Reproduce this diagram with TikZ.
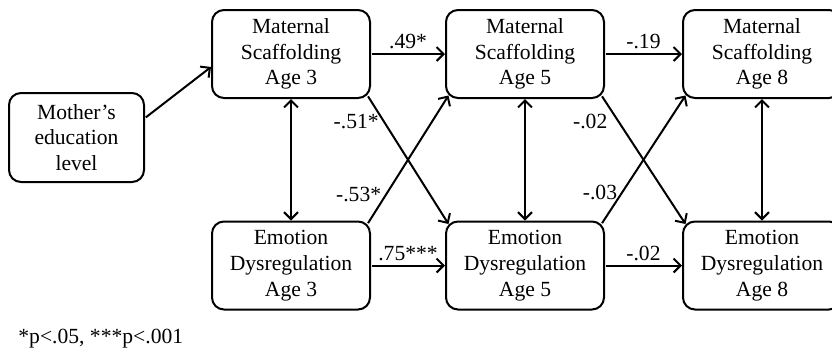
\documentclass[tikz,border=0pt]{standalone}
\usepackage{fontspec}
\setmainfont{Liberation Serif}
\usetikzlibrary{arrows.meta}
\begin{document}
\begin{tikzpicture}
[x=0.5pt,y=-0.5pt,
every node/.style={font=\fontsize{10.8}{12.9}\selectfont},
var/.style={draw,line width=1pt,rounded corners=6pt,align=center,inner sep=0pt,
  minimum width=79pt,minimum height=44pt},
effect/.style={line width=1pt,-{Straight Barb[length=3.5pt,width=7pt]},
  shorten <=0.5pt},
corr/.style={line width=1pt,
  {Straight Barb[length=3.5pt,width=7pt]}-{Straight Barb[length=3.5pt,width=7pt]}},
coef/.style={inner sep=2pt},
]
\useasboundingbox (0,0) rectangle (832,354);
\node[var,minimum width=67.5pt,minimum height=44.5pt] (mother) at (76.5,137.5)
  {Mother's\\education\\level};
\node[var] (ms3) at (291,54) {Maternal\\Scaffolding\\Age 3};
\node[var] (ed3) at (291,265.5) {Emotion\\Dysregulation\\Age 3};
\node[var] (ms5) at (525,54) {Maternal\\Scaffolding\\Age 5};
\node[var] (ed5) at (525,265.5) {Emotion\\Dysregulation\\Age 5};
\node[var] (ms8) at (762,54) {Maternal\\Scaffolding\\Age 8};
\node[var] (ed8) at (762,265.5) {Emotion\\Dysregulation\\Age 8};
\node[anchor=west,inner sep=0pt] (note) at (18,339) {*p<.05, ***p<.001};

\draw[effect] ([yshift=9.75pt]mother.east) -- ([yshift=-6.5pt]ms3.west);
\draw[effect] (ms3) -- node[coef,above]{.49*} (ms5);
\draw[effect] (ed3) -- node[coef,above]{.75***} (ed5);
\draw[effect] (ms5) -- node[coef,above]{-.19} (ms8);
\draw[effect] (ed5) -- node[coef,above]{-.02} (ed8);
\draw[effect] ([xshift=-1.75pt,yshift=1.75pt]ms3.south east)
  -- node[coef,pos=0.2,left]{-.51*} ([xshift=1.75pt,yshift=-1.75pt]ed5.north west);
\draw[effect] ([xshift=-1.75pt,yshift=-1.75pt]ed3.north east)
  -- node[coef,pos=0.23,left]{-.53*} ([xshift=1.75pt,yshift=1.75pt]ms5.south west);
\draw[effect] ([xshift=-1.75pt,yshift=1.75pt]ms5.south east)
  -- node[coef,pos=0.2,left=3pt]{-.02} ([xshift=1.75pt,yshift=-1.75pt]ed8.north west);
\draw[effect] ([xshift=-1.75pt,yshift=-1.75pt]ed5.north east)
  -- node[coef,pos=0.245,left]{-.03} ([xshift=1.75pt,yshift=1.75pt]ms8.south west);
\draw[corr] (ms3) -- (ed3);
\draw[corr] (ms5) -- (ed5);
\draw[corr] (ms8) -- (ed8);
\end{tikzpicture}
\end{document}
